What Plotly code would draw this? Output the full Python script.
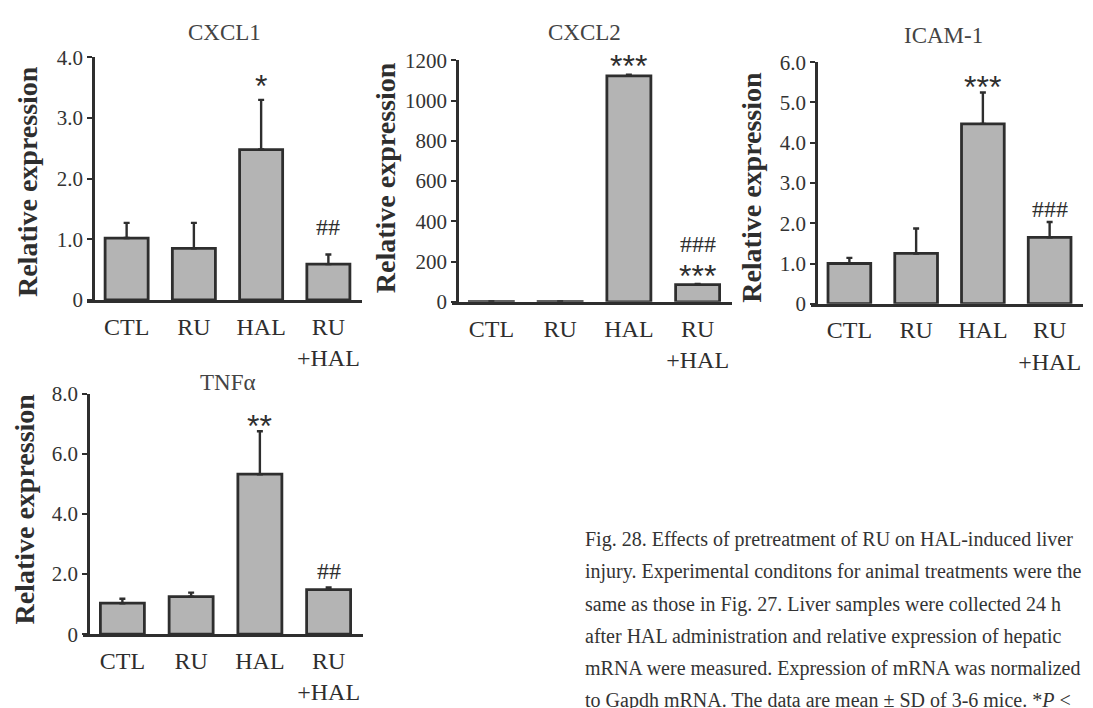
import plotly.graph_objects as go

# ---------------- data ----------------
categories = ["CTL", "RU", "HAL", "RU<br>+HAL"]

cxcl1_mean = [1.02, 0.85, 2.48, 0.59]
cxcl1_err = [0.25, 0.42, 0.82, 0.16]
cxcl1_marks = ["", "", "*", "##"]

cxcl2_mean = [1.0, 1.3, 1123.0, 86.0]
cxcl2_err = [0.3, 0.5, 6.0, 3.0]
cxcl2_marks = ["", "", "***", "###<br>***"]

icam1_mean = [1.0, 1.25, 4.47, 1.65]
icam1_err = [0.14, 0.62, 0.78, 0.38]
icam1_marks = ["", "", "***", "###"]

tnfa_mean = [1.03, 1.25, 5.32, 1.48]
tnfa_err = [0.15, 0.13, 1.43, 0.07]
tnfa_marks = ["", "", "**", "##"]

titles = ["CXCL1", "CXCL2", "ICAM-1", "TNFα"]
ytitle = "Relative expression"

yticks1 = [0, 1, 2, 3, 4]
yticklabels1 = ["0", "1.0", "2.0", "3.0", "4.0"]
yticks2 = [0, 200, 400, 600, 800, 1000, 1200]
yticklabels2 = ["0", "200", "400", "600", "800", "1000", "1200"]
yticks3 = [0, 1, 2, 3, 4, 5, 6]
yticklabels3 = ["0", "1.0", "2.0", "3.0", "4.0", "5.0", "6.0"]
yticks4 = [0, 2, 4, 6, 8]
yticklabels4 = ["0", "2.0", "4.0", "6.0", "8.0"]

caption_lines = [
    "Fig. 28. Effects of pretreatment of RU on HAL-induced liver",
    "injury. Experimental conditons for animal treatments were the",
    "same as those in Fig. 27. Liver samples were collected 24 h",
    "after HAL administration and relative expression of hepatic",
    "mRNA were measured. Expression of mRNA was normalized",
    "to Gapdh mRNA. The data are mean ± SD of 3-6 mice. *<i>P</i> <",
]

# ---------------- style ----------------
W, H = 1093, 708
SERIF = "Liberation Serif, Times New Roman, serif"
SANS = "Liberation Sans, Arial, sans-serif"
INK = "#2e2e2e"
TICKINK = "#333333"
BARFILL = "#b4b4b4"

# panel geometry in pixels: yaxis x, xaxis start, xaxis end, y of zero, y of top
# markshift: pixel offsets of each stacked mark line (bottom line first)
panels = [
    dict(mean=cxcl1_mean, err=cxcl1_err, marks=cxcl1_marks, yt=yticks1, ytl=yticklabels1,
         ymax=4, xa=93, xs=87, xe=362, y0=298, y1=47, title=(224, 21), ytx=(27, 176),
         markshift=[[], [], [-6], [12]]),
    dict(mean=cxcl2_mean, err=cxcl2_err, marks=cxcl2_marks, yt=yticks2, ytl=yticklabels2,
         ymax=1200, xa=457, xs=452, xe=732, y0=300, y1=50, title=(584, 21), ytx=(385, 172),
         markshift=[[], [], [-11], [-12, 25]]),
    dict(mean=icam1_mean, err=icam1_err, marks=icam1_marks, yt=yticks3, ytl=yticklabels3,
         ymax=6, xa=816, xs=811, xe=1083, y0=302, y1=52, title=(943, 24), ytx=(752, 182),
         markshift=[[], [], [-15], [-2]]),
    dict(mean=tnfa_mean, err=tnfa_err, marks=tnfa_marks, yt=yticks4, ytl=yticklabels4,
         ymax=8, xa=88, xs=83, xe=363, y0=644, y1=395, title=(228, 384), ytx=(25, 515),
         markshift=[[], [], [-15], [2]]),
]

fig = go.Figure()
layout = dict(
    width=W, height=H, margin=dict(l=0, r=0, t=0, b=0),
    paper_bgcolor="white", plot_bgcolor="rgba(0,0,0,0)",
    showlegend=False, bargap=0.36,
)
annotations = []

for i, p in enumerate(panels, start=1):
    xn = "x" if i == 1 else f"x{i}"
    yn = "y" if i == 1 else f"y{i}"
    xk = "xaxis" if i == 1 else f"xaxis{i}"
    yk = "yaxis" if i == 1 else f"yaxis{i}"
    fig.add_trace(go.Bar(
        x=categories, y=p["mean"], xaxis=xn, yaxis=yn,
        marker=dict(color=BARFILL, line=dict(color=INK, width=2.8)),
        error_y=dict(type="data", array=p["err"], arrayminus=[0] * 4, symmetric=False,
                     color=INK, thickness=2.4, width=3),
        hoverinfo="skip",
    ))
    catw = (p["xe"] - p["xa"]) / 4.0
    lo = -0.5 - (p["xa"] - p["xs"]) / catw
    layout[xk] = dict(
        domain=[p["xs"] / W, p["xe"] / W], anchor=yn, range=[lo, 3.5],
        showline=True, linecolor=INK, linewidth=2.8, ticks="", showgrid=False,
        zeroline=False, tickfont=dict(family=SERIF, size=24, color=INK),
        ticklabelstandoff=3, fixedrange=True,
    )
    layout[yk] = dict(
        domain=[1 - p["y0"] / H, 1 - p["y1"] / H], anchor="free", position=p["xa"] / W,
        range=[0, p["ymax"]], showline=True, linecolor=INK, linewidth=2.8,
        ticks="outside", ticklen=5, tickwidth=2, tickcolor=INK,
        tickvals=p["yt"], ticktext=p["ytl"], showgrid=False, zeroline=False,
        tickfont=dict(family=SERIF, size=21, color=TICKINK), fixedrange=True,
    )
    # panel title
    annotations.append(dict(
        text=titles[i - 1], xref="paper", yref="paper",
        x=p["title"][0] / W, y=1 - p["title"][1] / H, showarrow=False,
        xanchor="center", yanchor="middle",
        font=dict(family=SERIF, size=23, color="#444444"),
    ))
    # y-axis title
    annotations.append(dict(
        text=f"<b>{ytitle}</b>", xref="paper", yref="paper", textangle=-90,
        x=p["ytx"][0] / W, y=1 - p["ytx"][1] / H, showarrow=False,
        xanchor="center", yanchor="middle",
        font=dict(family=SERIF, size=28, color=INK),
    ))
    # significance marks (stacked bottom-up)
    for j, m in enumerate(p["marks"]):
        if not m:
            continue
        lines = m.split("<br>")[::-1]
        for k, ln in enumerate(lines):
            is_star = ln.startswith("*")
            annotations.append(dict(
                text=ln, xref=xn, yref=yn, x=j, y=p["mean"][j] + p["err"][j],
                xanchor="center", yanchor="bottom", showarrow=False,
                yshift=p["markshift"][j][k],
                font=dict(family=SANS if is_star else SERIF, size=32 if is_star else 24,
                          color=INK),
            ))

# caption
for k, line in enumerate(caption_lines):
    annotations.append(dict(
        text=line, xref="paper", yref="paper", x=583 / W, y=1 - (546 + 33.4 * k) / H,
        xanchor="left", yanchor="middle", showarrow=False,
        font=dict(family=SERIF, size=20, color="#333333"),
    ))

layout["annotations"] = annotations
fig.update_layout(**layout)
fig.write_html("out.html")
